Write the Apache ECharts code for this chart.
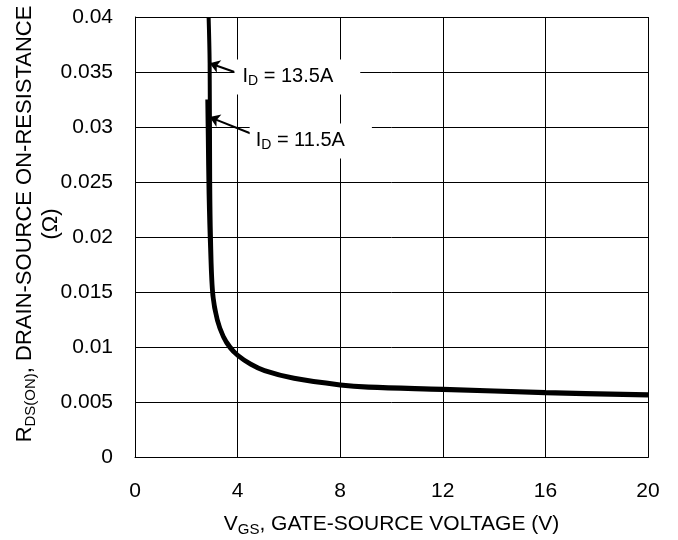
<!DOCTYPE html>
<html>
<head>
<meta charset="utf-8">
<script src="https://cdn.jsdelivr.net/npm/echarts@6/dist/echarts.min.js"></script>
<style>
  html, body { margin: 0; padding: 0; background: #fff; }
  #chart { width: 678px; height: 540px; }
</style>
</head>
<body>
<div id="chart"></div>
<script>
// On-resistance vs gate-source voltage, two drain currents
const vgs13_5 = [2.87, 2.91, 2.93, 2.96, 3.04, 3.22, 3.45, 3.72, 4.0, 4.5, 5.05, 6.2, 8.0, 9.1, 12.0, 16.0, 20.0];
const rds13_5 = [0.0400, 0.0358, 0.0250, 0.0200, 0.0150, 0.0125, 0.0110, 0.0100, 0.0093, 0.0085, 0.0079, 0.0072, 0.0066, 0.0064, 0.0062, 0.0059, 0.0057];

const vgs11_5 = [2.82, 2.84, 2.87, 2.93, 3.02, 3.2, 3.44, 3.7, 4.0, 4.5, 5.05, 6.2, 8.0, 9.1, 12.0, 16.0, 20.0];
const rds11_5 = [0.0325, 0.0290, 0.0240, 0.0190, 0.0147, 0.0124, 0.0109, 0.0099, 0.0092, 0.0084, 0.0078, 0.0071, 0.0065, 0.0063, 0.0061, 0.0058, 0.0056];

const xTicks = [0, 4, 8, 12, 16, 20];
const yTicks = [0, 0.005, 0.01, 0.015, 0.02, 0.025, 0.03, 0.035, 0.04];

// Curve annotations: label anchor (left edge of box) and arrow tail -> tip
const labelNames = ['13.5A', '11.5A'];
const labelAnchors = [[3.88, 0.03455], [4.47, 0.02873]];
const arrowTails = [[3.88, 0.0350], [4.66, 0.02927]];
const arrowTips = [[2.91, 0.0358], [2.91, 0.0309]];

const FONT = 'Liberation Sans, Arial, sans-serif';
const zip = (xs, ys) => xs.map((x, i) => [x, ys[i]]);

const chart = echarts.init(document.getElementById('chart'), null, { renderer: 'canvas' });

function richText(size, sub, lh) {
  return {
    b: { fontSize: size, fontFamily: FONT, color: '#000', lineHeight: lh },
    s: { fontSize: sub, fontFamily: FONT, color: '#000', lineHeight: 10, padding: [lh - 10, 0, 0, 0], verticalAlign: 'bottom' }
  };
}

chart.setOption({
  animation: false,
  backgroundColor: '#fff',
  grid: { left: 135, right: 30, top: 17, bottom: 83, show: false, containLabel: false, outerBoundsMode: 'none' },
  xAxis: {
    type: 'value',
    min: 0, max: 20, interval: 4,
    axisLine: { show: true, onZero: false, lineStyle: { color: '#000', width: 1 } },
    axisTick: { show: false },
    splitLine: { show: true, lineStyle: { color: '#000', width: 1 } },
    axisLabel: {
      margin: 24, fontSize: 21, fontFamily: FONT, color: '#000',
      customValues: xTicks,
      formatter: v => String(v)
    },
    name: '{b|V}{s|GS}{b|, GATE-SOURCE VOLTAGE (V)}',
    nameLocation: 'middle',
    nameGap: 55,
    nameMoveOverlap: false,
    nameTextStyle: { rich: richText(21, 15, 25) }
  },
  yAxis: {
    type: 'value',
    min: 0, max: 0.04, interval: 0.005,
    axisLine: { show: true, lineStyle: { color: '#000', width: 1 } },
    axisTick: { show: false },
    splitLine: { show: true, lineStyle: { color: '#000', width: 1 } },
    axisLabel: {
      margin: 22, fontSize: 21, fontFamily: FONT, color: '#000',
      formatter: v => {
        const t = yTicks.find(k => Math.abs(k - v) < 1e-9);
        return t === undefined ? '' : String(+t.toFixed(3));
      }
    },
    name: '{b|R}{s|DS(ON)}{b|, DRAIN-SOURCE ON-RESISTANCE}\n{b|(Ω)}',
    nameLocation: 'middle',
    nameRotate: 90,
    nameGap: 71,
    nameMoveOverlap: false,
    nameTextStyle: { rich: richText(22, 15, 26), align: 'center', padding: [0, 0, 0, 26] }
  },
  series: [
    {
      name: 'ID = 13.5A',
      type: 'line',
      data: zip(vgs13_5, rds13_5),
      smooth: 0.35,
      showSymbol: false,
      clip: true,
      lineStyle: { color: '#000', width: 4, cap: 'butt' },
      z: 3,
      markLine: {
        silent: true,
        symbol: ['none', 'arrow'],
        symbolSize: 10,
        label: { show: false },
        lineStyle: { color: '#000', width: 2, type: 'solid' },
        data: arrowTails.map((t, i) => [{ coord: t }, { coord: arrowTips[i] }])
      },
      markPoint: {
        silent: true,
        symbol: 'circle',
        symbolSize: 0,
        data: labelAnchors.map((c, i) => ({
          coord: c,
          label: {
            show: true,
            position: 'right',
            distance: 0,
            formatter: '{b|I}{s|D}{b| = ' + labelNames[i] + '}',
            rich: richText(20, 14, 24),
            backgroundColor: '#fff',
            padding: [5, 27, 6, i === 0 ? 8 : 6]
          }
        }))
      }
    },
    {
      name: 'ID = 11.5A',
      type: 'line',
      data: zip(vgs11_5, rds11_5),
      smooth: 0.35,
      showSymbol: false,
      clip: true,
      lineStyle: { color: '#000', width: 4, cap: 'butt' },
      z: 3
    }
  ]
});

// Frame on all four edges of the plot
const r = chart.getModel().getComponent('grid').coordinateSystem.getRect();
chart.setOption({
  graphic: [{
    type: 'rect',
    shape: { x: Math.round(r.x) + 0.5, y: Math.round(r.y) + 0.5, width: Math.round(r.width), height: Math.round(r.height) },
    style: { fill: 'none', stroke: '#000', lineWidth: 1 },
    silent: true,
    z: 1
  }]
});
</script>
</body>
</html>
